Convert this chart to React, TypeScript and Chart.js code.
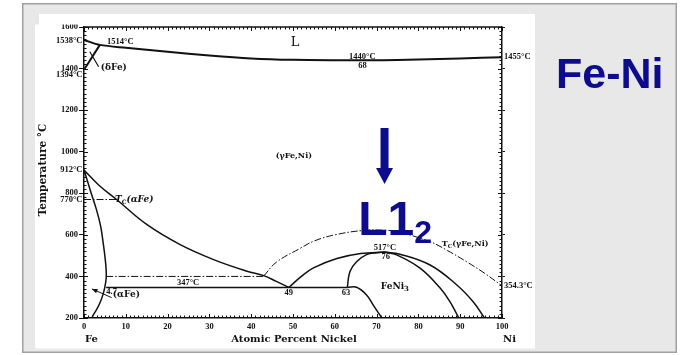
import { useEffect, useRef } from "react";
import { Chart, registerables } from "chart.js";

Chart.register(...registerables);

type Pt = [number, number];

// Fe-Ni phase boundaries: atomic percent Ni vs temperature (°C)
const liquidus: Pt[] = [
  [0, 1538], [3.8, 1514], [10, 1500], [20, 1481], [30, 1463], [40, 1449],
  [50, 1442], [60, 1440], [68, 1440], [75, 1441], [85, 1446], [95, 1452], [100, 1455],
];
const deltaBoundary: Pt[] = [[0, 1394], [3.8, 1514]];
const deltaLeader: Pt[] = [[1.4, 1481], [3.5, 1409]];
const alphaBoundary: Pt[] = [
  [0, 912], [1.5, 815], [3, 720], [4, 640], [4.6, 559], [5.1, 480], [5.3, 431],
  [5.3, 390], [5.0, 350], [4.5, 310], [3.8, 272], [3, 240], [2.2, 214], [1.9, 200],
];
const gammaBoundary: Pt[] = [
  [0, 912], [3.5, 840], [7.8, 770], [15, 650], [23, 553], [31, 481], [39, 425],
  [43, 404], [46, 376], [49, 347],
];
const curieAlpha: Pt[] = [[0, 770], [7.8, 770]];
const magnetic400: Pt[] = [[5.3, 400], [43, 400]];
const curieGamma: Pt[] = [
  [43, 402], [46, 468], [51.7, 535], [55, 570], [60, 600], [66.8, 621], [72, 622],
  [74.8, 616], [82.8, 567], [87, 524], [91.5, 471], [96, 413], [100, 354.3],
];
const eutectoid347: Pt[] = [[5.3, 347], [63, 347]];
const feni3Left: Pt[] = [[49, 347], [52, 400], [54.9, 441], [60.5, 486], [66.2, 510], [72, 517]];
const feni3Inner: Pt[] = [[63, 347], [63.6, 423], [65.2, 471], [67.6, 505], [70, 514], [72, 517]];
const feni3RightInner: Pt[] = [
  [72, 517], [74.8, 504], [80.4, 440], [85.2, 344], [87.5, 280], [89.2, 218], [89.7, 200],
];
const feni3RightOuter: Pt[] = [
  [72, 517], [75.6, 507], [82.8, 455], [89.2, 359], [93.1, 278], [95.8, 200],
];
const gammaLow63: Pt[] = [[63, 347], [65.2, 348], [67.6, 311], [69.2, 262], [70.8, 214], [71.3, 200]];

// special temperatures marked on the axes
const leftTemps: [number, string][] = [[1538, "1538°C"], [1394, "1394°C"], [912, "912°C"], [770, "770°C"]];
const rightTemps: [number, string][] = [[1455, "1455°C"], [354.3, "354.3°C"]];

const X_MIN = 0, X_MAX = 100, X_STEP = 10;
const T_MIN = 200, T_MAX = 1600, T_STEP = 200;

const W = 684, H = 355;
const INK = "#111";
const BLUE = "#0c0c8c";
const SMALL = 'bold 8.5px "Liberation Serif"';
const MID = 'bold 9px "DejaVu Serif"';

const curve = (pts: Pt[], extra: Record<string, unknown> = {}) => ({
  data: pts.map(([x, y]) => ({ x, y })),
  showLine: true,
  pointRadius: 0,
  borderColor: INK,
  borderWidth: 1.5,
  tension: 0,
  fill: false,
  ...extra,
});
const dashDot = { borderDash: [7, 2, 1.5, 2], borderWidth: 1 };

function segText(ctx: CanvasRenderingContext2D, x: number, y: number, parts: { t: string; sub?: boolean }[], font: string, subFont: string) {
  let cx = x;
  for (const p of parts) {
    ctx.font = p.sub ? subFont : font;
    ctx.fillText(p.t, cx, p.sub ? y + 2.5 : y);
    cx += ctx.measureText(p.t).width;
  }
}

const decor = {
  id: "decor",
  beforeDraw(chart: Chart) {
    const ctx = chart.ctx;
    ctx.save();
    ctx.fillStyle = "#fff";
    ctx.fillRect(0, 0, W, H);
    ctx.fillStyle = "#e8e8e8";
    ctx.fillRect(22, 3, 655, 350);
    ctx.strokeStyle = "#a0a0a0";
    ctx.lineWidth = 1.5;
    ctx.strokeRect(22.75, 3.75, 653.5, 348.5);
    ctx.fillStyle = "#fff";
    ctx.fillRect(35, 24.5, 500, 324);
    ctx.fillRect(39, 14, 496, 11);
    ctx.restore();
  },
  afterDraw(chart: Chart) {
    const ctx = chart.ctx;
    const sx = chart.scales.x, sy = chart.scales.y;
    const px = (v: number) => sx.getPixelForValue(v);
    const py = (v: number) => sy.getPixelForValue(v);
    const { left, right, top, bottom } = chart.chartArea;
    ctx.save();
    // strip above the plot image
    ctx.fillStyle = "#fff";
    ctx.fillRect(39, 14, 496, 10.5);

    ctx.beginPath();
    ctx.rect(35, 14, 500, 334.5);
    ctx.clip();

    ctx.strokeStyle = INK;
    ctx.fillStyle = INK;
    // top frame line
    ctx.lineWidth = 1.5;
    ctx.beginPath();
    ctx.moveTo(left, top);
    ctx.lineTo(right, top);
    ctx.stroke();
    // minor ticks
    ctx.lineWidth = 1;
    ctx.beginPath();
    for (let v = X_MIN; v <= X_MAX; v += 1) {
      const x = Math.round(px(v)) + 0.5;
      const len = v % 10 === 0 ? 4 : 2.5;
      ctx.moveTo(x, bottom); ctx.lineTo(x, bottom - len);
      ctx.moveTo(x, top); ctx.lineTo(x, top + len);
    }
    for (let t = T_MIN; t <= T_MAX; t += 20) {
      const y = Math.round(py(t)) + 0.5;
      const len = t % 200 === 0 ? 4 : 2.5;
      ctx.moveTo(left, y); ctx.lineTo(left + len, y);
      ctx.moveTo(right, y); ctx.lineTo(right - len, y);
    }
    ctx.stroke();

    // special temperatures on the axes
    ctx.font = SMALL;
    ctx.textBaseline = "middle";
    ctx.textAlign = "right";
    for (const [t, s] of leftTemps) {
      ctx.fillText(s, left - 1.5, py(t) + (t === 1394 ? 5 : t === 1538 ? 1 : 0));
    }
    ctx.textAlign = "left";
    for (const [t, s] of rightTemps) {
      ctx.fillText(s, right + 2, py(t));
    }

    // phase and point labels
    const labels: { s: string; x: number; t: number; font: string; align?: CanvasTextAlign }[] = [
      { s: "L", x: 50.5, t: 1523, font: '13px "DejaVu Serif"' },
      { s: "1440°C", x: 66.6, t: 1459, font: SMALL },
      { s: "68", x: 66.6, t: 1411, font: SMALL },
      { s: "1514°C", x: 8.7, t: 1530, font: SMALL },
      { s: "(δFe)", x: 4.0, t: 1403, font: MID, align: "left" },
      { s: "(γFe,Ni)", x: 50.2, t: 979, font: 'bold 8px "DejaVu Serif"' },
      { s: "4.7", x: 6.6, t: 326, font: SMALL },
      { s: "347°C", x: 24.9, t: 367, font: SMALL },
      { s: "(αFe)", x: 6.9, t: 311, font: MID, align: "left" },
      { s: "49", x: 49, t: 323, font: SMALL },
      { s: "63", x: 62.7, t: 323, font: SMALL },
      { s: "517°C", x: 72, t: 540, font: SMALL },
      { s: "76", x: 72.2, t: 494, font: SMALL },
    ];
    for (const l of labels) {
      ctx.font = l.font;
      ctx.textAlign = l.align ?? "center";
      ctx.fillText(l.s, px(l.x), py(l.t));
    }
    ctx.textAlign = "left";
    segText(ctx, px(7.4), py(768), [{ t: "T" }, { t: "C", sub: true }, { t: "(αFe)" }],
      'italic bold 9px "DejaVu Serif"', 'bold 6px "DejaVu Serif"');
    segText(ctx, px(85.6), py(556), [{ t: "T" }, { t: "C", sub: true }, { t: "(γFe,Ni)" }],
      'bold 8px "DejaVu Serif"', 'bold 5.5px "DejaVu Serif"');
    ctx.textAlign = "left";
    segText(ctx, px(71), py(349), [{ t: "FeNi" }, { t: "3", sub: true }],
      'bold 9px "DejaVu Serif"', 'bold 7px "DejaVu Serif"');

    // (αFe) leader arrow
    {
      const x1 = px(6.6), y1 = py(298), x2 = px(1.9), y2 = py(340);
      ctx.lineWidth = 1;
      ctx.beginPath(); ctx.moveTo(x1, y1); ctx.lineTo(x2, y2); ctx.stroke();
      const a = Math.atan2(y2 - y1, x2 - x1);
      ctx.beginPath();
      ctx.moveTo(x2, y2);
      ctx.lineTo(x2 - 6 * Math.cos(a - 0.4), y2 - 6 * Math.sin(a - 0.4));
      ctx.lineTo(x2 - 6 * Math.cos(a + 0.4), y2 - 6 * Math.sin(a + 0.4));
      ctx.closePath(); ctx.fill();
    }

    // axis titles
    ctx.font = 'bold 10px "DejaVu Serif"';
    ctx.textBaseline = "middle";
    ctx.textAlign = "left";
    ctx.fillText("Fe", left + 1, 339);
    ctx.fillText("Ni", right + 1, 339);
    ctx.textAlign = "center";
    ctx.fillText("Atomic Percent Nickel", 294, 339);
    ctx.save();
    ctx.translate(43, 170);
    ctx.rotate(-Math.PI / 2);
    ctx.font = 'bold 10.5px "DejaVu Serif"';
    ctx.fillText("Temperature °C", 0, 0);
    ctx.restore();

    // L1₂ ordering marker
    ctx.fillStyle = BLUE;
    const ax = px(71.9);
    const aTop = py(1114), aTip = py(845);
    ctx.fillRect(ax - 4, aTop, 8, aTip - aTop - 15);
    ctx.beginPath();
    ctx.moveTo(ax - 8.5, aTip - 16);
    ctx.lineTo(ax + 8.5, aTip - 16);
    ctx.lineTo(ax, aTip);
    ctx.closePath(); ctx.fill();
    ctx.textBaseline = "alphabetic";
    ctx.textAlign = "left";
    ctx.font = 'bold 48px "Liberation Sans"';
    const lx = px(65.6), ly = py(600);
    ctx.fillText("L1", lx, ly);
    const w = ctx.measureText("L1").width;
    ctx.font = 'bold 32px "Liberation Sans"';
    ctx.fillText("2", lx + w, ly + 8);
    ctx.restore();

    // slide title
    ctx.save();
    ctx.fillStyle = BLUE;
    ctx.font = 'bold 43px "Liberation Sans"';
    ctx.textBaseline = "alphabetic";
    ctx.fillText("Fe-Ni", 556, 88);
    ctx.restore();
  },
};

export default function App() {
  const ref = useRef<HTMLCanvasElement>(null);
  useEffect(() => {
    const canvas = ref.current!;
    const tickFont = { family: "Liberation Serif", size: 8.5, weight: "bold" as const };
    const plain = (v: number | string) => String(v);
    const chart = new Chart(canvas, {
      type: "scatter",
      data: {
        datasets: [
          curve(liquidus, { tension: 0.3, borderWidth: 2 }),
          curve(deltaBoundary, { borderWidth: 2 }),
          curve(deltaLeader, { borderWidth: 1.2 }),
          curve(alphaBoundary, { tension: 0.4 }),
          curve(gammaBoundary, { tension: 0.4 }),
          curve(curieAlpha, dashDot),
          curve(magnetic400, dashDot),
          curve(curieGamma, { tension: 0.4, ...dashDot }),
          curve(eutectoid347),
          curve(feni3Left, { tension: 0.4 }),
          curve(feni3Inner, { tension: 0.4 }),
          curve(feni3RightInner, { tension: 0.4 }),
          curve(feni3RightOuter, { tension: 0.4 }),
          curve(gammaLow63, { tension: 0.4 }),
        ] as any,
      },
      options: {
        responsive: false,
        animation: false,
        devicePixelRatio: 1,
        layout: { padding: { top: 27, left: 0, right: 0, bottom: 0 } },
        plugins: { legend: { display: false }, tooltip: { enabled: false } },
        scales: {
          x: {
            type: "linear",
            position: "bottom",
            min: X_MIN,
            max: X_MAX,
            ticks: { stepSize: X_STEP, font: tickFont, color: INK, padding: 4, maxRotation: 0, callback: plain },
            grid: { display: false, drawTicks: false },
            border: { display: true, color: INK, width: 1.5 },
            afterFit: (s: any) => { s.height = 37; },
          },
          y: {
            type: "linear",
            position: "left",
            min: T_MIN,
            max: T_MAX,
            ticks: { stepSize: T_STEP, font: tickFont, color: INK, padding: 1, autoSkip: false, callback: plain },
            grid: { drawOnChartArea: false, tickLength: 5, color: INK, tickColor: INK, lineWidth: 1 },
            border: { display: true, color: INK, width: 1.5 },
            afterFit: (s: any) => { s.width = 84; },
          },
          y2: {
            type: "linear",
            position: "right",
            min: T_MIN,
            max: T_MAX,
            ticks: { stepSize: T_STEP, display: false },
            grid: { drawOnChartArea: false, tickLength: 3, color: INK, tickColor: INK, lineWidth: 1 },
            border: { display: true, color: INK, width: 1.5 },
            afterFit: (s: any) => { s.width = 182; },
          },
        },
      },
      plugins: [decor],
    });
    return () => chart.destroy();
  }, []);
  return (
    <div style={{ position: "fixed", left: 0, top: 0, width: W, height: H }}>
      <canvas ref={ref} width={W} height={H} style={{ display: "block", width: W, height: H }} />
    </div>
  );
}
